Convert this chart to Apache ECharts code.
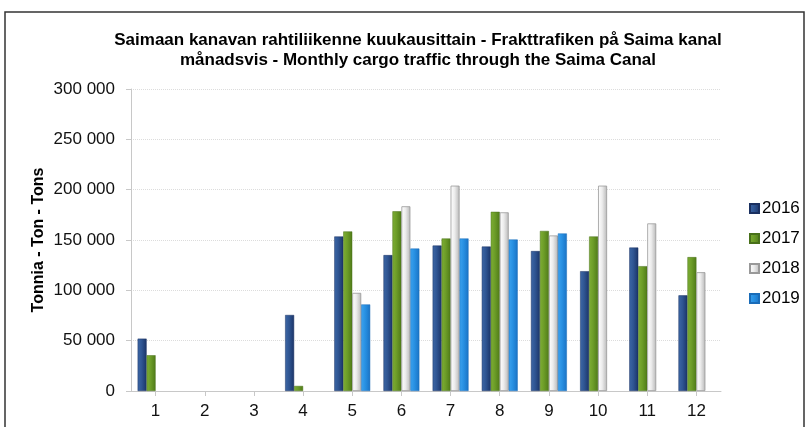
<!DOCTYPE html>
<html>
<head>
<meta charset="utf-8">
<script src="https://cdn.jsdelivr.net/npm/echarts@6/dist/echarts.min.js"></script>
<style>
  html, body { margin: 0; padding: 0; background: #fff; }
  #main { width: 809px; height: 427px; }
</style>
</head>
<body>
<div id="main"></div>
<script>
// kuukaudet
var months = ['1', '2', '3', '4', '5', '6', '7', '8', '9', '10', '11', '12'];
var yTicks = [0, 50000, 100000, 150000, 200000, 250000, 300000];
// tonnit per vuosi (luettu kuvasta)
var data2016 = [52000, null, null, 75500, 153500, 135000, 144500, 143500, 139000, 119000, 142500, 95000];
var data2017 = [35500, null, null, 5000, 158500, 178500, 151500, 178000, 159000, 153500, 124000, 133000];
var data2018 = [null, null, null, null, 97500, 183500, 204000, 177500, 154500, 204000, 166500, 118000];
var data2019 = [null, null, null, null, 86000, 141500, 151500, 150500, 156500, null, null, null];

function grad(c1, c2, c3) {
	return new echarts.graphic.LinearGradient(0, 0, 1, 0, [
		{offset: 0, color: c1},
		{offset: 0.45, color: c2},
		{offset: 1, color: c3}
	]);
}

function fmt(v) {
	return String(v).replace(/\B(?=(\d{3})+(?!\d))/g, ' ');
}

var myChart = echarts.init(document.getElementById('main'));
var font = 'Liberation Sans, Arial, sans-serif';

var option = {
	animation: false,
	textStyle: { fontFamily: font },
	title: {
		text: 'Saimaan kanavan rahtiliikenne kuukausittain - Frakttrafiken på Saima kanal\nmånadsvis - Monthly cargo traffic through the Saima Canal',
		left: 413,
		textAlign: 'center',
		top: 25,
		textStyle: {
			fontFamily: font,
			fontSize: 17,
			fontWeight: 'bold',
			color: '#000',
			lineHeight: 20
		}
	},
	graphic: [{
		type: 'rect',
		shape: { x: 5, y: 12, width: 799, height: 430 },
		style: { fill: 'none', stroke: '#333', lineWidth: 1.5 },
		silent: true
	}],
	legend: {
		orient: 'vertical',
		left: 744,
		top: 195,
		itemWidth: 9,
		itemHeight: 9,
		itemGap: 13,
		icon: 'rect',
		textStyle: { fontFamily: font, fontSize: 17, color: '#000', padding: [0, 0, 0, -2] },
		data: ['2016', '2017', '2018', '2019']
	},
	grid: {
		left: 131,
		right: 88,
		top: 89,
		bottom: 36
	},
	xAxis: {
		type: 'category',
		data: months,
		axisTick: { show: true, alignWithLabel: true, length: 5, lineStyle: { color: '#c8c8c8' } },
		axisLine: { lineStyle: { color: '#c8c8c8' } },
		axisLabel: { fontFamily: font, fontSize: 17, color: '#111', margin: 12 }
	},
	yAxis: {
		type: 'value',
		min: 0,
		max: 300000,
		interval: 50000,
		name: 'Tonnia - Ton - Tons',
		nameLocation: 'middle',
		nameGap: 84,
		nameMoveOverlap: false,
		nameTextStyle: { fontFamily: font, fontSize: 16, fontWeight: 'bold', color: '#000' },
		axisLine: { show: true, lineStyle: { color: '#c8c8c8' } },
		axisTick: { show: true, length: 5, lineStyle: { color: '#c8c8c8' } },
		axisLabel: {
			fontFamily: font, fontSize: 17, color: '#111', margin: 16,
			formatter: function (v) { return yTicks.indexOf(v) >= 0 ? fmt(v) : ''; }
		},
		splitLine: { lineStyle: { color: '#dcdcdc', type: 'dotted' } }
	},
	series: [
		{
			name: '2016',
			type: 'bar',
			data: data2016,
			barGap: '0%',
			barCategoryGap: '27%',
			itemStyle: { color: grad('#3d67a6', '#2f5592', '#1b3468'), borderColor: '#1a3060', borderWidth: 0.5 }
		},
		{
			name: '2017',
			type: 'bar',
			data: data2017,
			itemStyle: { color: grad('#7eae34', '#6c9c28', '#4f7a18'), borderColor: '#48701a', borderWidth: 0.5 }
		},
		{
			name: '2018',
			type: 'bar',
			data: data2018,
			itemStyle: { color: grad('#ffffff', '#ececec', '#b8b8b8'), borderColor: '#999', borderWidth: 0.8 }
		},
		{
			name: '2019',
			type: 'bar',
			data: data2019,
			itemStyle: { color: grad('#3ca2ee', '#2890e2', '#1a72c4'), borderColor: '#1a6cb8', borderWidth: 0.5 }
		}
	]
};
myChart.setOption(option);
</script>
</body>
</html>
